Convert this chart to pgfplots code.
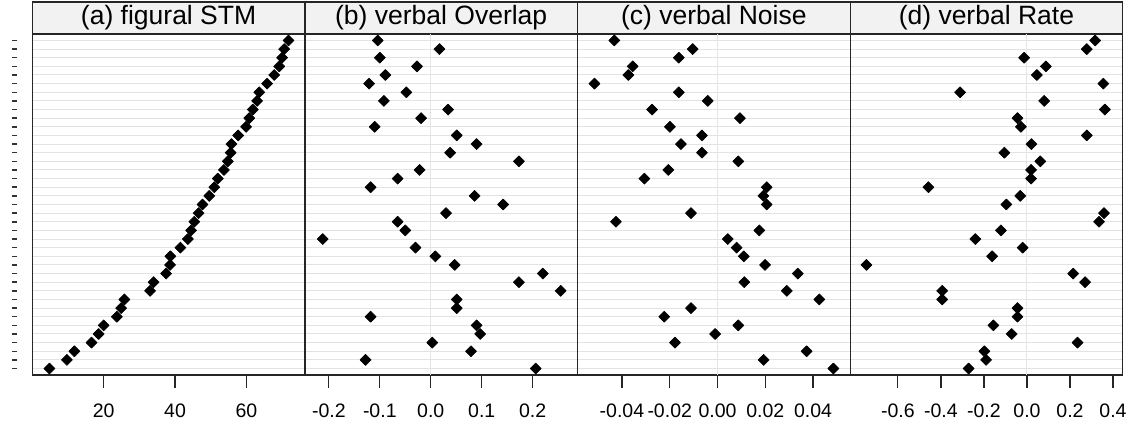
\documentclass[border=0pt]{standalone}
\usepackage{fontspec}
\setmainfont{Liberation Sans}
\usepackage{pgfplots}
\usepackage{pgfplotstable}
\pgfplotsset{compat=1.18}

% one row per line of the dot plot, bottom (1) to top (39)
\pgfplotstableread{
row a    b      c       d
1   4.8  0.206  0.0485 -0.271
2   9.7 -0.128  0.0193 -0.190
3  11.8  0.079  0.0373 -0.198
4  16.6  0.003 -0.0178  0.235
5  18.6  0.097 -0.0010 -0.071
6  20.0  0.090  0.0087 -0.156
7  23.7 -0.118 -0.0223 -0.044
8  24.9  0.051 -0.0111 -0.044
9  25.8  0.051  0.0426 -0.394
10 33.0  0.255  0.0290 -0.394
11 34.0  0.173  0.0112  0.270
12 37.5  0.220  0.0336  0.215
13 38.6  0.047  0.0199 -0.746
14 38.7  0.009  0.0110 -0.162
15 41.5 -0.030  0.0080 -0.020
16 43.6 -0.212  0.0043 -0.240
17 44.5 -0.050  0.0175 -0.121
18 45.4 -0.065 -0.0425  0.335
19 46.6  0.030 -0.0111  0.358
20 47.7  0.142  0.0206 -0.096
21 49.6  0.086  0.0192 -0.031
22 51.0 -0.118  0.0206 -0.458
23 52.0 -0.065 -0.0306  0.019
24 53.7 -0.022 -0.0206  0.019
25 54.8  0.173  0.0087  0.062
26 55.6  0.038 -0.0065 -0.105
27 55.8  0.090 -0.0153  0.021
28 57.7  0.051 -0.0065  0.278
29 59.9 -0.110 -0.0199 -0.028
30 60.8 -0.019  0.0094 -0.044
31 61.8  0.034 -0.0274  0.362
32 63.0 -0.092 -0.0041  0.080
33 63.6 -0.048 -0.0162 -0.311
34 65.8 -0.121 -0.0515  0.355
35 67.8 -0.089 -0.0373  0.046
36 69.2 -0.027 -0.0355  0.088
37 70.0 -0.100 -0.0162 -0.013
38 70.6  0.017 -0.0104  0.278
39 71.8 -0.104 -0.0432  0.317
}\dotdata

\newcommand\notick{}

\pgfplotsset{
  panel/.style={
    scale only axis, width=272.6pt, height=341pt,
    ymin=0.25, ymax=39.75,
    ytick={1,...,39}, yticklabel={\notick}, ytick pos=left,
    ymajorgrids, major grid style={gray!22, line width=1pt},
    y tick style={draw=none},
    xtick pos=left, tick align=outside, major tick length=13pt,
    x tick style={black!85, line width=1.2pt},
    axis line style={black!85, line width=1.2pt},
    xticklabel style={font=\fontsize{19.5}{22}\selectfont, inner sep=0pt, yshift=-15.5pt},
    every axis title shift=0pt,
    title style={at={(0.5,1)}, anchor=south, yshift=0pt, draw=black!85,
      line width=1.2pt, fill=gray!10, minimum width=272.6pt,
      minimum height=31.3pt, inner sep=0pt, font=\fontsize{26.5}{30}\selectfont},
  },
  dots/.style={only marks, mark=square*, mark size=3.9pt,
    mark options={rotate=45, fill=black, draw=black, line width=0.6pt, line join=round}},
  zeroline/.style={gray!20, line width=1pt, forget plot},
}

\begin{document}
\begin{tikzpicture}
\useasboundingbox (-32.3pt,-52pt) rectangle (1096.7pt,375pt);

\begin{axis}[panel, at={(0pt,0pt)}, title={(a) figural STM},
    xmin=0, xmax=76.4, xtick={20,40,60}, xticklabels={20,40,60},
    yticklabel={\rule{5pt}{1.5pt}},
    yticklabel style={inner sep=0pt, xshift=-2.3pt, black!80}]
\addplot[dots] table[x=a, y=row] {\dotdata};
\end{axis}

\begin{axis}[panel, at={(272.6pt,0pt)}, title={(b) verbal Overlap},
    xmin=-0.247, xmax=0.288, xtick={-0.2,-0.1,0,0.1,0.2},
    xticklabels={-0.2,-0.1,0.0,0.1,0.2}]
\addplot[zeroline] coordinates {(0,0.25) (0,39.75)};
\addplot[dots] table[x=b, y=row] {\dotdata};
\end{axis}

\begin{axis}[panel, at={(545.2pt,0pt)}, title={(c) verbal Noise},
    xmin=-0.0586, xmax=0.0555, xtick={-0.04,-0.02,0,0.02,0.04},
    xticklabels={-0.04,-0.02,0.00,0.02,0.04}]
\addplot[zeroline] coordinates {(0,0.25) (0,39.75)};
\addplot[dots] table[x=c, y=row] {\dotdata};
\end{axis}

\begin{axis}[panel, at={(817.8pt,0pt)}, title={(d) verbal Rate},
    xmin=-0.822, xmax=0.445, xtick={-0.6,-0.4,-0.2,0,0.2,0.4},
    xticklabels={-0.6,-0.4,-0.2,0.0,0.2,0.4}]
\addplot[zeroline] coordinates {(0,0.25) (0,39.75)};
\addplot[dots] table[x=d, y=row] {\dotdata};
\end{axis}
\end{tikzpicture}
\end{document}
